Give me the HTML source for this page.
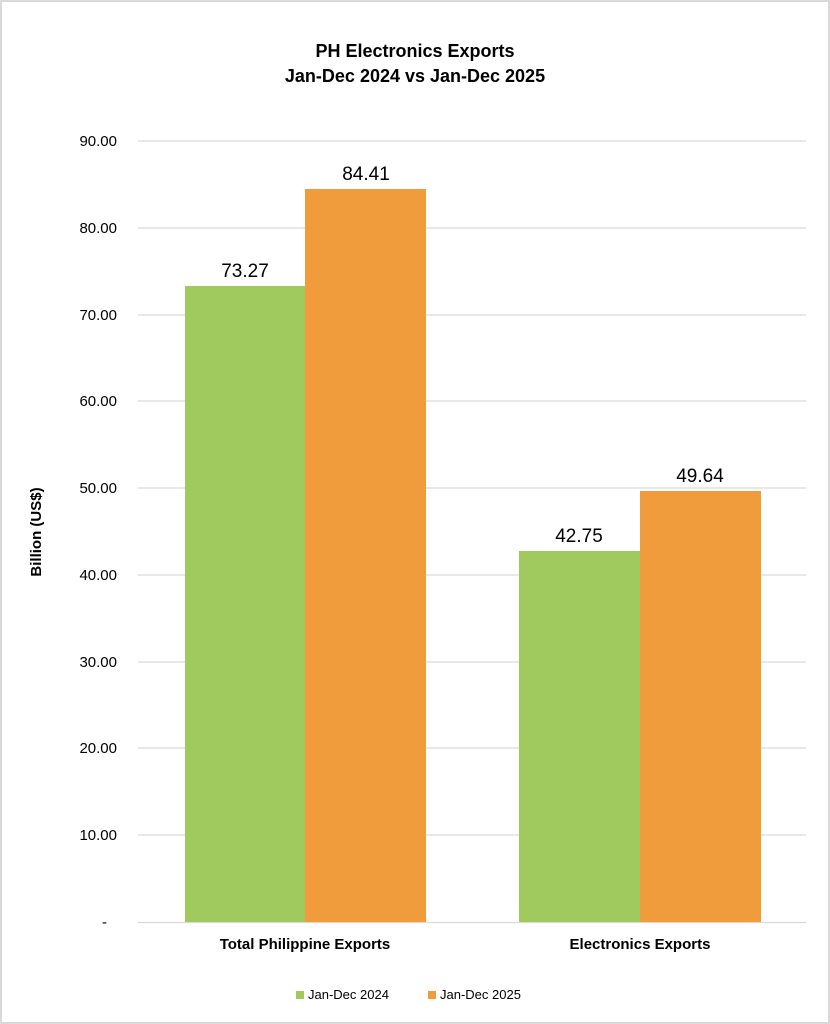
<!DOCTYPE html>
<html><head><style>body{margin:0;background:#fff}svg{display:block}</style></head><body>
<svg width="830" height="1024" viewBox="0 0 830 1024" xmlns="http://www.w3.org/2000/svg" font-family="Liberation Sans, Arial, sans-serif">
<rect x="1" y="1" width="828" height="1022" fill="#fff" stroke="#d9d9d9" stroke-width="2"/>
<text x="415" y="57" text-anchor="middle" font-size="18" font-weight="bold" fill="#000">PH Electronics Exports</text>
<text x="415" y="82" text-anchor="middle" font-size="18" font-weight="bold" fill="#000">Jan-Dec 2024 vs Jan-Dec 2025</text>
<g stroke="#d9d9d9" stroke-width="1.3">
<line x1="138" x2="806" y1="141" y2="141"/><line x1="138" x2="806" y1="228" y2="228"/>
<line x1="138" x2="806" y1="315" y2="315"/><line x1="138" x2="806" y1="401" y2="401"/>
<line x1="138" x2="806" y1="488" y2="488"/><line x1="138" x2="806" y1="575" y2="575"/>
<line x1="138" x2="806" y1="662" y2="662"/><line x1="138" x2="806" y1="748" y2="748"/>
<line x1="138" x2="806" y1="835" y2="835"/><line x1="138" x2="806" y1="922.5" y2="922.5"/>
</g>
<g font-size="15" fill="#000" text-anchor="end">
<text x="117" y="146">90.00</text><text x="117" y="233">80.00</text><text x="117" y="320">70.00</text>
<text x="117" y="406">60.00</text><text x="117" y="493">50.00</text><text x="117" y="580">40.00</text>
<text x="117" y="667">30.00</text><text x="117" y="753">20.00</text><text x="117" y="840">10.00</text>
<text x="107" y="927">-</text>
</g>
<text transform="translate(41,532) rotate(-90)" text-anchor="middle" font-size="15" font-weight="bold">Billion (US$)</text>
<rect x="185" y="286" width="120" height="636" fill="#a0c95e"/>
<rect x="305" y="189" width="121" height="733" fill="#f09b3c"/>
<rect x="519" y="551" width="121" height="371" fill="#a0c95e"/>
<rect x="640" y="491" width="121" height="431" fill="#f09b3c"/>
<g font-size="19" text-anchor="middle" fill="#000">
<text x="245" y="277">73.27</text><text x="366" y="180">84.41</text>
<text x="579" y="542">42.75</text><text x="700" y="482">49.64</text>
</g>
<g font-size="15" font-weight="bold" text-anchor="middle">
<text x="305" y="949">Total Philippine Exports</text>
<text x="640" y="949">Electronics Exports</text>
</g>
<rect x="296" y="991" width="8" height="8" fill="#a0c95e"/>
<text x="308" y="999" font-size="13">Jan-Dec 2024</text>
<rect x="428" y="991" width="8" height="8" fill="#f09b3c"/>
<text x="440" y="999" font-size="13">Jan-Dec 2025</text>
</svg>
</body></html>
